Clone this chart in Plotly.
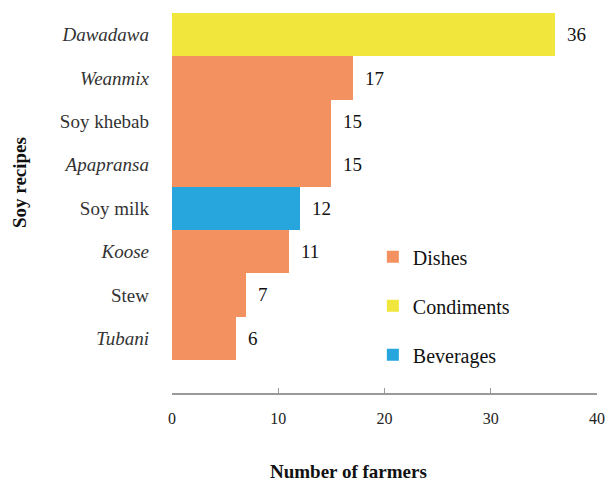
import plotly.graph_objects as go

# Data (top to bottom as in the chart)
recipes = ["Dawadawa", "Weanmix", "Soy khebab", "Apapransa", "Soy milk", "Koose", "Stew", "Tubani"]
italic = [True, True, False, True, False, True, False, True]
farmers = [36, 17, 15, 15, 12, 11, 7, 6]
groups = ["Condiments", "Dishes", "Dishes", "Dishes", "Beverages", "Dishes", "Dishes", "Dishes"]

legend_order = ["Dishes", "Condiments", "Beverages"]
colors = {"Dishes": "#F39260", "Condiments": "#F0E63C", "Beverages": "#27A6DE"}

x_ticks = [0, 10, 20, 30, 40]

FONT = "Liberation Serif, Times New Roman, serif"

fig = go.Figure()
for g in legend_order:
    ys = [r for r, gg in zip(recipes, groups) if gg == g]
    xs = [v for v, gg in zip(farmers, groups) if gg == g]
    fig.add_trace(go.Bar(
        y=ys, x=xs, orientation="h", name=g, legendgroup=g,
        marker=dict(color=colors[g], line=dict(width=0)),
        hoverinfo="x+y",
    ))

# value labels
for r, v in zip(recipes, farmers):
    fig.add_annotation(x=v, y=r, xref="x", yref="y", text=str(v), showarrow=False,
                       xanchor="left", yanchor="middle", xshift=10,
                       font=dict(family=FONT, size=19, color="#111111"))

ticktext = [f"<i>{r}</i>" if it else r for r, it in zip(recipes, italic)]
bottom_up = recipes[::-1]

fig.update_layout(
    width=609, height=482,
    margin=dict(l=172, r=12, t=13, b=89, autoexpand=False),
    paper_bgcolor="white", plot_bgcolor="white",
    barmode="overlay", bargap=0,
    font=dict(family=FONT, color="#222222"),
    showlegend=True,
    legend=dict(x=0.4726, y=0.41, xanchor="left", yanchor="top",
                font=dict(family=FONT, size=20, color="#111111"),
                tracegroupgap=20, bgcolor="rgba(0,0,0,0)",
                traceorder="grouped"),
    xaxis=dict(range=[0, 40], tickvals=x_ticks, ticktext=[str(t) for t in x_ticks],
               showgrid=False, zeroline=False, showline=True, linecolor="#9a9a9a",
               linewidth=1.5, ticks="inside", ticklen=5, tickcolor="#9a9a9a",
               ticklabelstandoff=10,
               tickfont=dict(family=FONT, size=16, color="#222222"),
               fixedrange=True),
    yaxis=dict(type="category", categoryorder="array", categoryarray=bottom_up,
               tickvals=recipes, ticktext=ticktext,
               range=[-1.26, 7.5], showgrid=False, zeroline=False, showline=False,
               ticks="", ticklabelstandoff=22,
               tickfont=dict(family=FONT, size=19, color="#333333"),
               fixedrange=True),
)

fig.add_annotation(text="<b>Number of farmers</b>", xref="paper", yref="paper",
                   x=(348 - 172) / 425, y=-(484 - 393) / 380, showarrow=False,
                   xanchor="center", yanchor="bottom",
                   font=dict(family=FONT, size=19, color="#111111"))
fig.add_annotation(text="<b>Soy recipes</b>", xref="paper", yref="paper",
                   x=-(172 - 20) / 425, y=(393 - 183) / 380, showarrow=False,
                   textangle=-90, xanchor="center", yanchor="middle",
                   font=dict(family=FONT, size=19, color="#111111"))

fig.write_html("out.html", config={"displayModeBar": False},
               post_script="document.body.style.margin='0';")
